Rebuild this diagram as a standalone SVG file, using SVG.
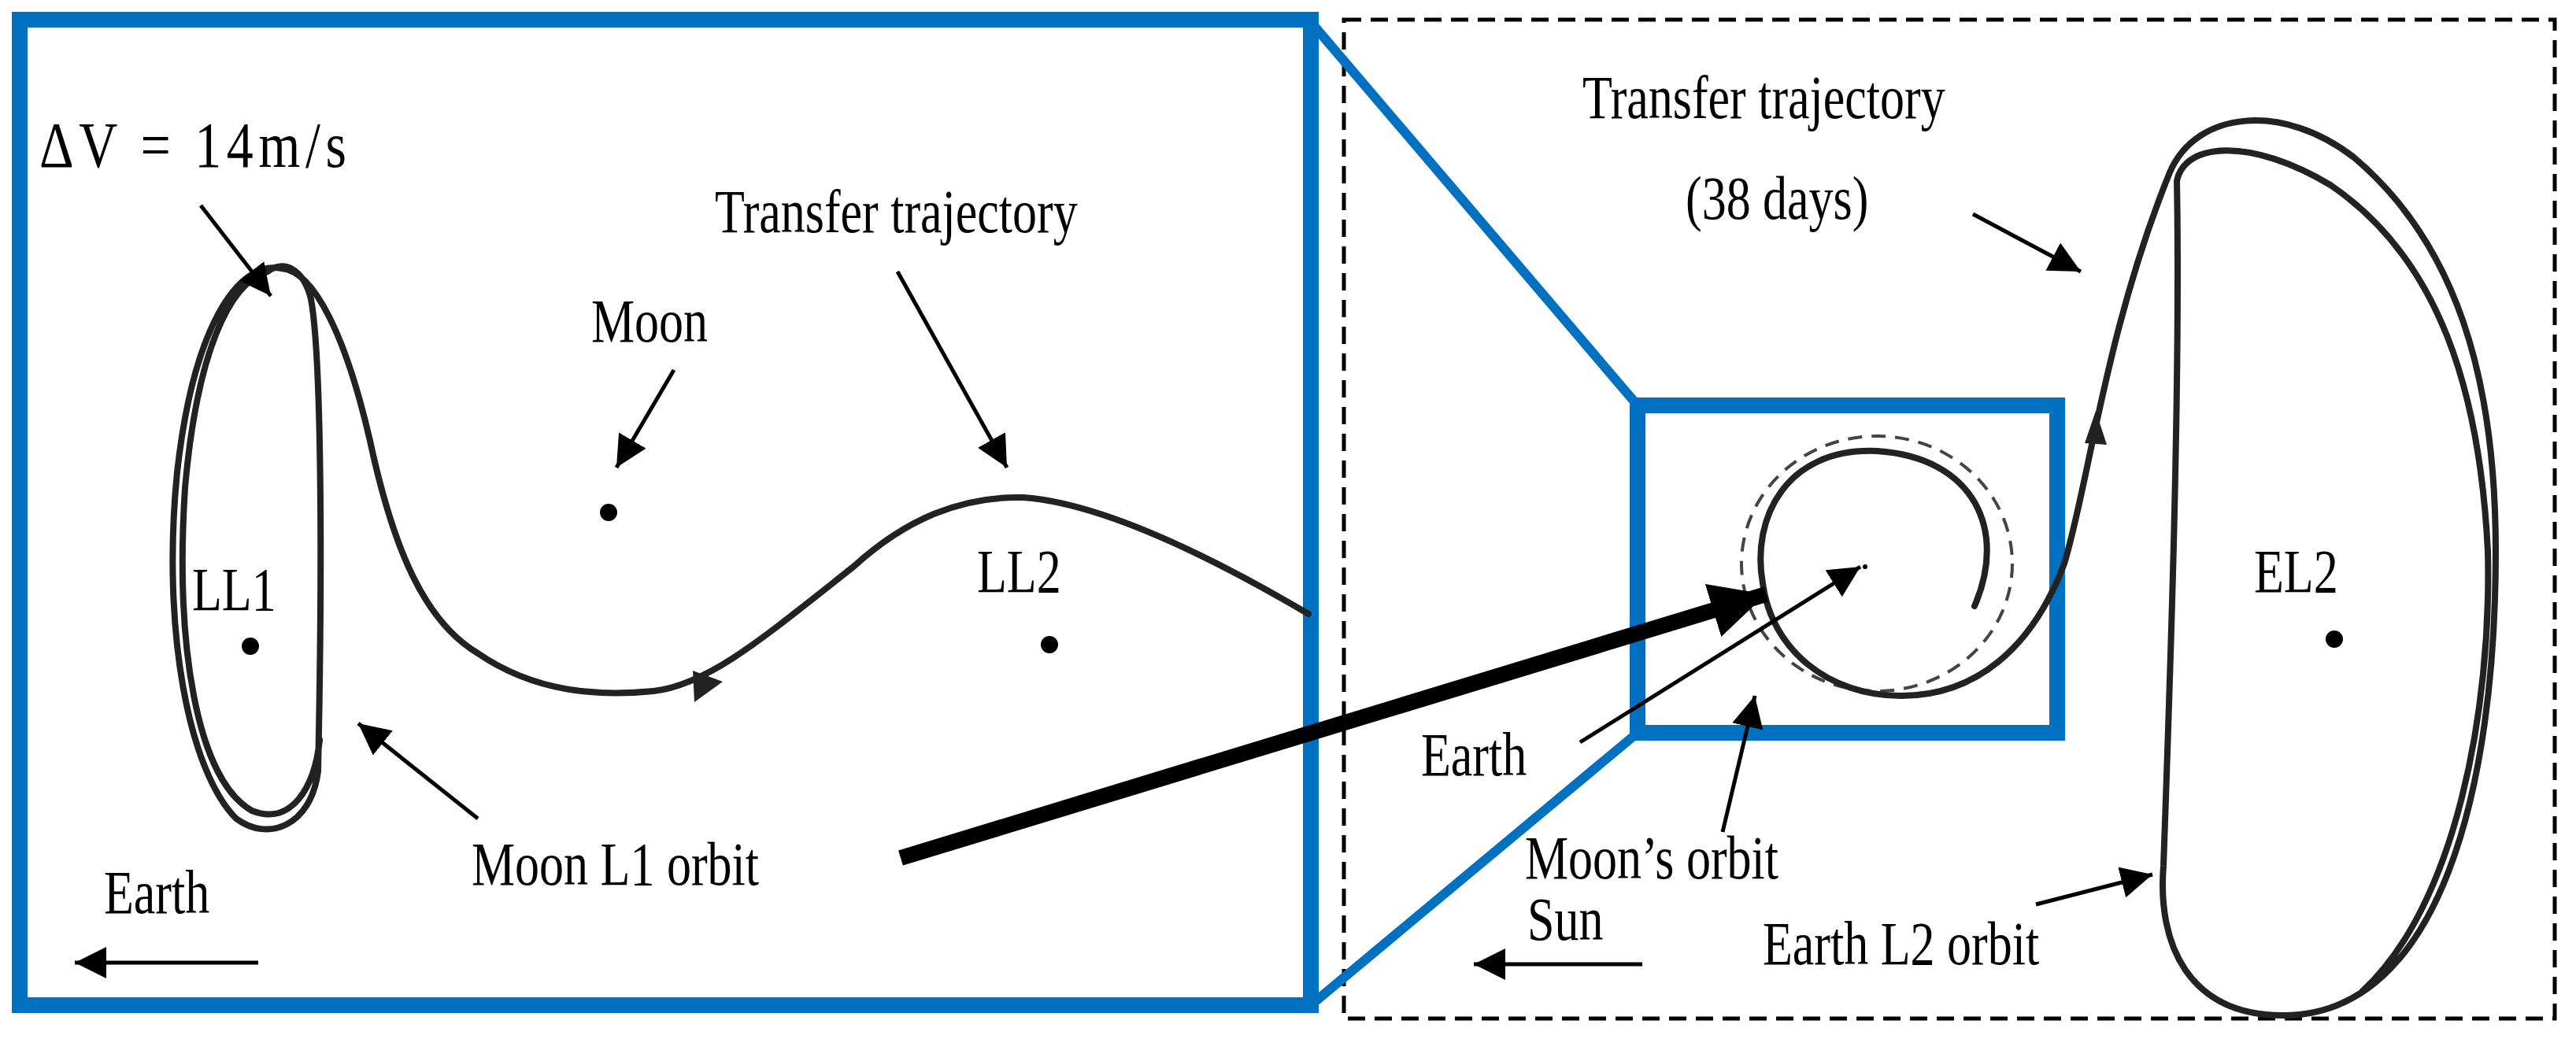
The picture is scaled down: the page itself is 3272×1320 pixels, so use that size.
<svg xmlns="http://www.w3.org/2000/svg" width="3272" height="1320" viewBox="0 0 3272 1320">
<style>
.t{font-family:"Liberation Serif",serif;font-size:62px;fill:#000}
.blue{fill:none;stroke:#0070C0;stroke-width:20}
.bl{fill:none;stroke:#0070C0;stroke-width:12}
.orb{fill:none;stroke:#222;stroke-width:8;stroke-linecap:round;stroke-linejoin:round}
.ar{fill:none;stroke:#000;stroke-width:5;marker-end:url(#ah)}
</style>
<defs>
<marker id="ah" markerUnits="userSpaceOnUse" markerWidth="50" markerHeight="50" refX="40" refY="20" orient="auto"><path d="M0,0 L40,20 L0,40 Z" fill="#000"/></marker>
<marker id="big" markerUnits="userSpaceOnUse" markerWidth="80" markerHeight="80" refX="70" refY="35" orient="auto"><path d="M0,0 L70,35 L0,70 Z" fill="#000"/></marker>
</defs>
<rect width="3272" height="1320" fill="#fff"/>
<g id="left-panel"><rect class="blue" x="25" y="25" width="1640" height="1252"/></g>
<g id="right-panel"><rect x="1707" y="25" width="1538" height="1269" fill="none" stroke="#000" stroke-width="5" stroke-dasharray="22,12"/></g>
<g id="zoom-box"><rect class="blue" x="2080" y="515" width="533" height="416"/>
<line class="bl" x1="1665" y1="28" x2="2080" y2="515"/><line class="bl" x1="1665" y1="1277" x2="2080" y2="931"/></g>
<g id="ll1-orbit"><path class="orb" d="M358,341 C300,330 245,420 225,600 C205,800 240,980 300,1040 C340,1070 395,1050 404,980 C410,700 408,450 395,380 C385,340 360,330 340,345 C290,360 250,450 235,620 C222,820 250,990 320,1030 C370,1050 400,1000 406,940"/></g>
<g id="transfer-moon"><path class="orb" d="M358,341 C400,345 440,430 470,560 C500,700 540,790 607,830 C680,880 760,885 830,878 C900,870 970,810 1084,720 C1150,660 1220,630 1300,632 C1409,640 1560,720 1662,780"/>
<polygon points="880,852 918,866 882,892" fill="#222"/></g>
<g id="moon"><circle cx="773" cy="651" r="11"/></g>
<g id="ll1"><circle cx="318" cy="821" r="11"/></g>
<g id="ll2"><circle cx="1333" cy="819" r="11"/></g>
<g id="el2"><circle cx="2965" cy="812" r="11"/></g>
<g id="earth-dot"><circle cx="2369" cy="720" r="3"/></g>
<g id="moons-orbit"><ellipse cx="2384" cy="716" rx="172" ry="162" fill="none" stroke="#444" stroke-width="4" stroke-dasharray="18,12"/></g>
<g id="transfer-earth"><path class="orb" d="M2508,770 C2550,674 2508,581 2384,573 C2270,568 2224,657 2239,741 C2250,825 2322,884 2415,884 C2508,884 2581,825 2622,716 C2653,615 2674,421 2756,219 C2790,140 2900,130 2990,200 C3120,310 3170,480 3170,700 C3170,1000 3100,1290 2900,1290 C2780,1290 2740,1200 2748,1100 C2755,900 2770,500 2765,230 C2775,180 2860,175 2960,235 C3100,330 3150,500 3160,700 C3165,900 3120,1150 3000,1260"/>
<polygon points="2648,563 2662,522 2676,565" fill="#222"/></g>
<g id="connectors">
<line class="ar" x1="255" y1="261" x2="344" y2="376"/>
<line class="ar" x1="856" y1="470" x2="783" y2="594"/>
<line class="ar" x1="1140" y1="345" x2="1279" y2="594"/>
<line class="ar" x1="607" y1="1040" x2="455" y2="919"/>
<line class="ar" x1="328" y1="1223" x2="95" y2="1223"/>
<line x1="1144" y1="1090" x2="2243" y2="755" stroke="#000" stroke-width="20" marker-end="url(#big)"/>
<line class="ar" x1="2506" y1="272" x2="2643" y2="345"/>
<line class="ar" x1="2007" y1="943" x2="2363" y2="720"/>
<line class="ar" x1="2188" y1="1057" x2="2229" y2="884"/>
<line class="ar" x1="2086" y1="1225" x2="1872" y2="1225"/>
<line class="ar" x1="2586" y1="1149" x2="2734" y2="1111"/>
</g>
<g id="labels">
<text class="t" transform="translate(50,212) scale(1,1.2)" style="font-size:68px" textLength="390" lengthAdjust="spacing">ΔV = 14m/s</text>
<text class="t" transform="translate(751,434) scale(1,1.25)">Moon</text>
<text class="t" transform="translate(908,295) scale(1,1.25)">Transfer trajectory</text>
<text class="t" transform="translate(244,775) scale(1,1.25)">LL1</text>
<text class="t" transform="translate(1241,752) scale(1,1.25)">LL2</text>
<text class="t" transform="translate(599,1124) scale(1,1.25)">Moon L1 orbit</text>
<text class="t" transform="translate(132,1160) scale(1,1.25)">Earth</text>
<text class="t" transform="translate(2010,150) scale(1,1.25)">Transfer trajectory</text>
<text class="t" transform="translate(2141,278) scale(1,1.25)">(38 days)</text>
<text class="t" transform="translate(1805,985) scale(1,1.25)">Earth</text>
<text class="t" transform="translate(1937,1116) scale(1,1.25)">Moon’s orbit</text>
<text class="t" transform="translate(1940,1194) scale(1,1.25)">Sun</text>
<text class="t" transform="translate(2239,1225) scale(1,1.25)">Earth L2 orbit</text>
<text class="t" transform="translate(2863,752) scale(1,1.25)">EL2</text>
</g>
</svg>
